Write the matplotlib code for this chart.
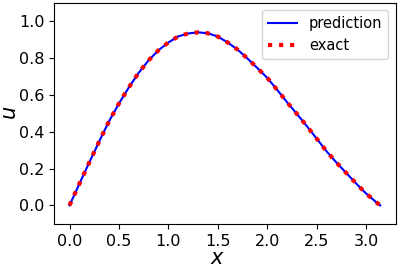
import matplotlib
matplotlib.use("Agg")
import matplotlib.pyplot as plt

# Values
x_vals = [0.0, 0.1, 0.2, 0.3, 0.4, 0.5, 0.6, 0.7, 0.8, 0.9, 1.0,
          1.1, 1.2, 1.3, 1.4, 1.5, 1.6, 1.7, 1.8, 1.9, 2.0,
          2.1, 2.2, 2.3, 2.4, 2.5, 2.6, 2.7, 2.8, 2.9, 3.0, 3.1, 3.1416]
exact_vals = [0.000, 0.117, 0.233, 0.347, 0.457, 0.553, 0.640, 0.720, 0.787, 0.842, 0.884,
              0.917, 0.933, 0.939, 0.934, 0.916, 0.884, 0.845, 0.797, 0.745, 0.692,
              0.627, 0.560, 0.496, 0.430, 0.362, 0.293, 0.232, 0.175, 0.118, 0.064, 0.018, 0.000]
pred_vals = list(exact_vals)

x_ticks = [0.0, 0.5, 1.0, 1.5, 2.0, 2.5, 3.0]
y_ticks = [0.0, 0.2, 0.4, 0.6, 0.8, 1.0]

fig = plt.figure(figsize=(3.99, 2.68), dpi=100)
ax = fig.add_axes([0.1353, 0.165, 0.8564, 0.825])

ax.plot(x_vals, pred_vals, color="blue", linewidth=1.5, label="prediction")
ax.plot(x_vals, exact_vals, color="red", linestyle=":", linewidth=3, label="exact")

ax.set_ylim(-0.1, 1.1)
ax.set_xticks(x_ticks)
ax.set_yticks(y_ticks)
ax.tick_params(labelsize=11.5)
ax.set_xlabel("$x$", fontsize=15)
ax.set_ylabel("$u$", fontsize=15)
ax.xaxis.set_label_coords(0.48, -0.108)
ax.yaxis.set_label_coords(-0.099, 0.5)
ax.legend(loc="upper right", fontsize=10.5)

fig.savefig("out.png", dpi=100)
